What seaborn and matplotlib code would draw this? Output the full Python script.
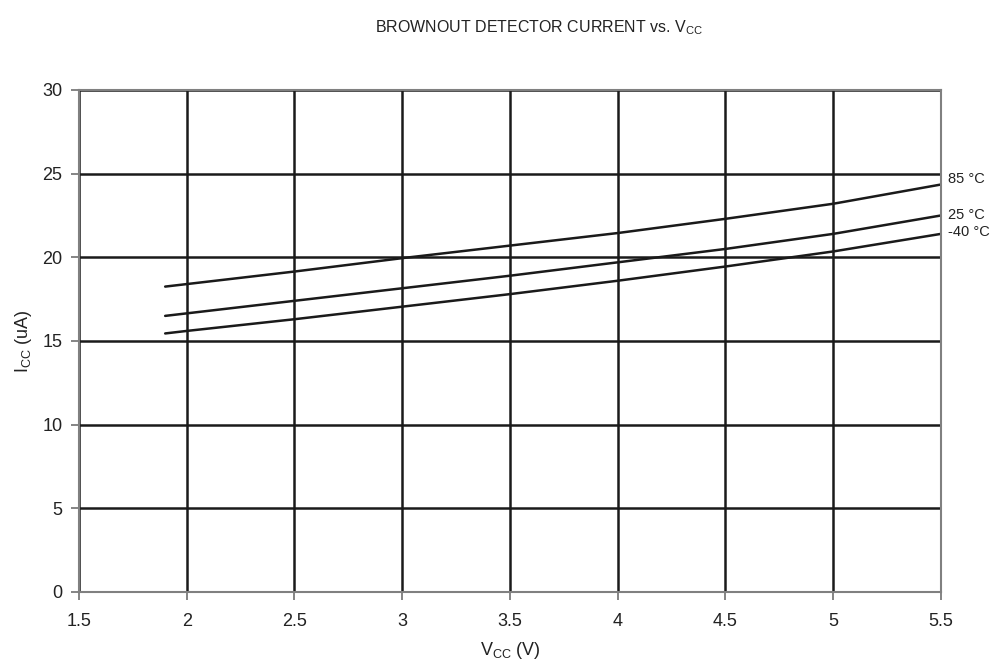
import numpy as np
import pandas as pd
import matplotlib
matplotlib.use("Agg")
import matplotlib.pyplot as plt
import seaborn as sns

vcc = [1.9, 2.0, 2.5, 3.0, 3.5, 4.0, 4.5, 5.0, 5.5]
icc_85 = [18.25, 18.4, 19.15, 19.95, 20.7, 21.45, 22.3, 23.2, 24.35]
icc_25 = [16.5, 16.65, 17.4, 18.15, 18.9, 19.7, 20.5, 21.4, 22.5]
icc_m40 = [15.45, 15.6, 16.3, 17.05, 17.8, 18.6, 19.45, 20.35, 21.4]
temps = ["85 °C", "25 °C", "-40 °C"]

df = pd.concat([
    pd.DataFrame({"vcc": vcc, "icc": vals, "temp": t})
    for t, vals in zip(temps, [icc_85, icc_25, icc_m40])
])

sns.set_style("white")
plt.rcParams['font.family'] = ['Liberation Sans', 'DejaVu Sans']
plt.rcParams['mathtext.fontset'] = 'custom'
plt.rcParams['mathtext.rm'] = 'Liberation Sans'
plt.rcParams['mathtext.it'] = 'Liberation Sans'

fig = plt.figure(figsize=(10.01, 6.65), dpi=100)
ax = fig.add_axes([0.0789, 0.1098, 0.8611, 0.7549])

sns.lineplot(data=df, x="vcc", y="icc", units="temp", estimator=None,
             color="#1a1a1a", lw=1.8, ax=ax, legend=False)

ax.set_xlim(1.5, 5.5)
ax.set_ylim(0, 30)
ax.set_xticks(np.arange(1.5, 5.51, 0.5))
ax.set_xticklabels(["1.5", "2", "2.5", "3", "3.5", "4", "4.5", "5", "5.5"])
ax.set_yticks(np.arange(0, 31, 5))
ax.grid(True, color="#1a1a1a", lw=1.8)
for s in ax.spines.values():
    s.set_color("#808080")
    s.set_linewidth(1.5)
ax.tick_params(axis="both", direction="out", length=6, width=1.2, color="#707070",
               bottom=True, left=True,
               labelsize=13, labelcolor="#222222")
ax.tick_params(axis="x", pad=9)
ax.tick_params(axis="y", pad=6)

ax.set_xlabel(r"V$_{\mathrm{CC}}$ (V)", fontsize=13, color="#222222", labelpad=7)
ax.set_ylabel(r"I$_{\mathrm{CC}}$ (uA)", fontsize=13, color="#222222", labelpad=6)
fig.text(0.539, 0.959, r"BROWNOUT DETECTOR CURRENT vs. V$_{\mathrm{CC}}$",
         ha="center", va="center", fontsize=11.5, color="#222222")

for t, vals, dy in zip(temps, [icc_85, icc_25, icc_m40], [0.3, 0.0, 0.1]):
    ax.annotate(t, xy=(vcc[-1], vals[-1] + dy), xytext=(5, 0),
                textcoords="offset points", ha="left", va="center",
                fontsize=10.5, color="#222222", annotation_clip=False)

fig.savefig("out.png", dpi=100)
